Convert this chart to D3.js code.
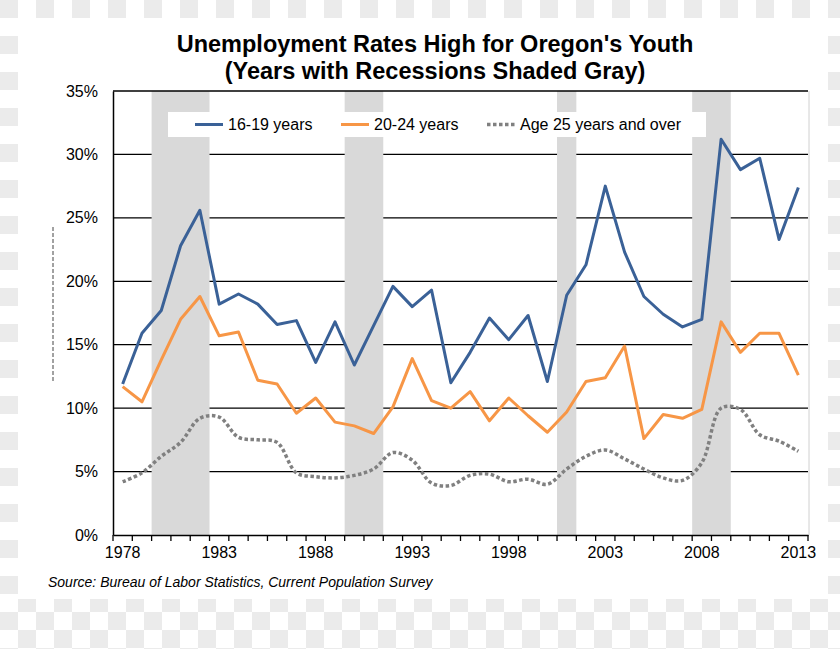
<!DOCTYPE html>
<html>
<head>
<meta charset="utf-8">
<script src="https://cdn.jsdelivr.net/npm/d3@7"></script>
<style>
  html, body { margin: 0; padding: 0; background: #fff; }
  svg { display: block; }
  text { font-family: "Liberation Sans", Arial, sans-serif; fill: #000; }
</style>
</head>
<body>
<svg id="chart" width="840" height="649"></svg>
<script>
// ---- Data ----
const years = d3.range(1978, 2014);
const teens = [11.9, 15.9, 17.7, 22.8, 25.6, 18.2, 19.0, 18.2, 16.6, 16.9,
               13.6, 16.8, 13.4, 16.5, 19.6, 18.0, 19.3, 12.0, 14.4, 17.1,
               15.4, 17.3, 12.1, 18.9, 21.3, 27.5, 22.3, 18.8, 17.4, 16.4,
               17.0, 31.2, 28.8, 29.7, 23.3, 27.4];
const twenties = [11.7, 10.5, 13.8, 17.0, 18.8, 15.7, 16.0, 12.2, 11.9, 9.6,
                  10.8, 8.9, 8.6, 8.0, 10.1, 13.9, 10.6, 10.0, 11.3, 9.0,
                  10.8, 9.4, 8.1, 9.7, 12.1, 12.4, 14.9, 7.6, 9.5, 9.2,
                  9.9, 16.8, 14.4, 15.9, 15.9, 12.6];
const over25 = [4.2, 4.9, 6.2, 7.3, 9.2, 9.3, 7.7, 7.5, 7.3, 4.9,
                4.6, 4.5, 4.7, 5.2, 6.5, 5.9, 4.1, 3.9, 4.7, 4.8,
                4.2, 4.4, 4.0, 5.2, 6.2, 6.7, 6.0, 5.2, 4.5, 4.3,
                5.7, 10.0, 9.9, 7.9, 7.4, 6.6];
const recessions = [[1980, 1982], [1990, 1991], [2001, 2001], [2008, 2009]];
const yTicks = [0, 5, 10, 15, 20, 25, 30, 35];
const xLabels = [1978, 1983, 1988, 1993, 1998, 2003, 2008, 2013];
const seriesNames = ["16-19 years", "20-24 years", "Age 25 years and over"];
const titleLines = ["Unemployment Rates High for Oregon's Youth", "(Years with Recessions Shaded Gray)"];
const sourceText = "Source: Bureau of Labor Statistics, Current Population Survey";

// ---- Layout ----
const svg = d3.select("#chart");
const W = 840, H = 649;
const plot = { left: 113, right: 808, top: 91, bottom: 535 };

// checkerboard background
const defs = svg.append("defs");
const pat = defs.append("pattern").attr("id", "checker")
  .attr("width", 36).attr("height", 36).attr("patternUnits", "userSpaceOnUse");
pat.append("rect").attr("width", 36).attr("height", 36).attr("fill", "#ffffff");
pat.append("rect").attr("x", 0).attr("y", 0).attr("width", 18).attr("height", 18).attr("fill", "#ebebeb");
pat.append("rect").attr("x", 18).attr("y", 18).attr("width", 18).attr("height", 18).attr("fill", "#ebebeb");
svg.append("rect").attr("width", W).attr("height", H).attr("fill", "url(#checker)");
// white panel
svg.append("rect").attr("x", 18).attr("y", 18).attr("width", 810).attr("height", 581).attr("fill", "#ffffff");

// ---- Scales ----
const x = d3.scaleBand().domain(years).range([plot.left, plot.right]).padding(0);
const y = d3.scaleLinear().domain([0, 35]).range([plot.bottom, plot.top]);
const cx = d => x(d) + x.bandwidth() / 2;

// gridlines
svg.append("g").selectAll("line").data(yTicks.filter(t => t > 0 && t < 35)).join("line")
  .attr("x1", plot.left).attr("x2", plot.right)
  .attr("y1", d => y(d)).attr("y2", d => y(d))
  .attr("stroke", "#000").attr("stroke-width", 1.3);

// recession shading
svg.append("g").selectAll("rect").data(recessions).join("rect")
  .attr("x", d => x(d[0]))
  .attr("width", d => x(d[1]) + x.bandwidth() - x(d[0]))
  .attr("y", y(35)).attr("height", y(0) - y(35))
  .attr("fill", "#d9d9d9");

// right border (light) and top border
svg.append("line").attr("x1", plot.right + 1).attr("x2", plot.right + 1)
  .attr("y1", plot.top).attr("y2", plot.bottom).attr("stroke", "#d0d0d0").attr("stroke-width", 1);
svg.append("line").attr("x1", plot.left).attr("x2", plot.right)
  .attr("y1", y(35)).attr("y2", y(35)).attr("stroke", "#000").attr("stroke-width", 1.3);

// y axis
const yAxis = svg.append("g").attr("transform", `translate(${plot.left},0)`)
  .call(d3.axisLeft(y).tickValues(yTicks).tickFormat(d => d + "%").tickSize(0).tickPadding(15));
yAxis.select(".domain").attr("stroke", "#000").attr("stroke-width", 1.5);
yAxis.selectAll("text").attr("font-size", 16).attr("font-family", "Liberation Sans, Arial, sans-serif");

// x axis
const xAxis = svg.append("g").attr("transform", `translate(0,${plot.bottom})`)
  .call(d3.axisBottom(x).tickValues(xLabels).tickSize(0).tickPadding(12));
xAxis.select(".domain").attr("stroke", "#000").attr("stroke-width", 1.5);
xAxis.selectAll("text").attr("font-size", 16).attr("font-family", "Liberation Sans, Arial, sans-serif");
// boundary tick marks
const boundaries = years.map(d => x(d)).concat([x(years[years.length - 1]) + x.bandwidth()]);
svg.append("g").selectAll("line").data(boundaries).join("line")
  .attr("x1", d => d).attr("x2", d => d)
  .attr("y1", plot.bottom).attr("y2", plot.bottom + 6)
  .attr("stroke", "#000").attr("stroke-width", 1.3);

// y-axis title artifact (dashed vertical mark)
svg.append("line").attr("x1", 53).attr("x2", 53).attr("y1", 227).attr("y2", 382)
  .attr("stroke", "#444").attr("stroke-width", 1).attr("stroke-dasharray", "4,2");

// ---- Lines ----
const lineStraight = d3.line().x((d, i) => cx(years[i])).y(d => y(d));
const lineSmooth = d3.line().x((d, i) => cx(years[i])).y(d => y(d)).curve(d3.curveCatmullRom.alpha(0.5));

svg.append("path").datum(over25).attr("d", lineSmooth)
  .attr("fill", "none").attr("stroke", "#808080").attr("stroke-width", 3.5)
  .attr("stroke-dasharray", "3.5,2.5");
svg.append("path").datum(twenties).attr("d", lineStraight)
  .attr("fill", "none").attr("stroke", "#f79646").attr("stroke-width", 3)
  .attr("stroke-linejoin", "round");
svg.append("path").datum(teens).attr("d", lineStraight)
  .attr("fill", "none").attr("stroke", "#3a6197").attr("stroke-width", 3)
  .attr("stroke-linejoin", "round");

// ---- Legend ----
const lg = svg.append("g");
lg.append("rect").attr("x", 168).attr("y", 112).attr("width", 538).attr("height", 25).attr("fill", "#fff");
const legendItems = [
  { name: seriesNames[0], x: 195, color: "#3a6197", dash: null, w: 3 },
  { name: seriesNames[1], x: 341, color: "#f79646", dash: null, w: 3 },
  { name: seriesNames[2], x: 487, color: "#808080", dash: "3.5,2.5", w: 3.5 }
];
legendItems.forEach(it => {
  lg.append("line").attr("x1", it.x).attr("x2", it.x + 28).attr("y1", 124.5).attr("y2", 124.5)
    .attr("stroke", it.color).attr("stroke-width", it.w).attr("stroke-dasharray", it.dash);
  lg.append("text").attr("x", it.x + 33).attr("y", 130).attr("font-size", 16).text(it.name);
});

// ---- Title ----
svg.append("text").attr("x", 435).attr("y", 52).attr("text-anchor", "middle")
  .attr("font-size", 23.5).attr("font-weight", "bold").text(titleLines[0]);
svg.append("text").attr("x", 435).attr("y", 79).attr("text-anchor", "middle")
  .attr("font-size", 23.5).attr("font-weight", "bold").text(titleLines[1]);

// ---- Source ----
svg.append("text").attr("x", 48).attr("y", 587).attr("font-size", 14)
  .attr("font-style", "italic").text(sourceText);
</script>
</body>
</html>
